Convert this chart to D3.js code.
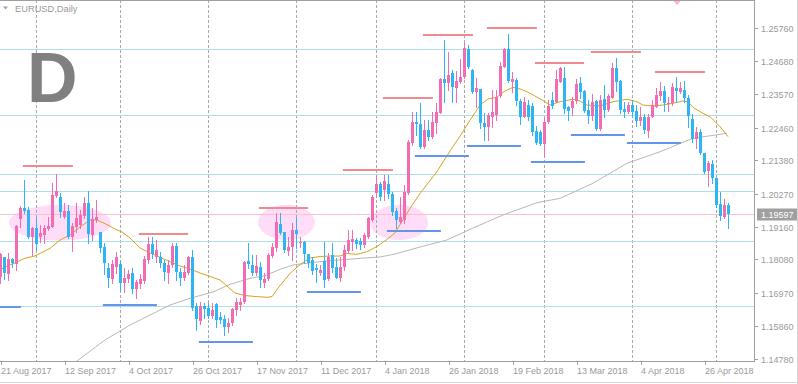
<!DOCTYPE html>
<html><head><meta charset="utf-8">
<script src="https://cdn.jsdelivr.net/npm/d3@7"></script>
<style>body{margin:0;background:#fff}svg{display:block}text{font-family:"Liberation Sans",Arial,sans-serif}</style>
</head><body>
<svg id="chart" width="798" height="384"></svg>
<script>
// ---------------- DATA ----------------
const symbolTitle = "EURUSD,Daily";
const bigLetter = "D";
const currentPrice = 1.19597;
const currentPriceLabel = "1.19597";

const open = [
1.17501,1.18147,1.17591,1.18090,1.17924,1.19421,1.19797,1.19721,1.18832,1.19132,
1.18832,1.18889,1.19089,1.19165,1.20197,1.20163,1.19498,1.19687,1.18832,1.19165,
1.19222,1.19531,1.19964,1.18889,1.19388,1.18979,1.18500,1.17781,1.17425,1.17814,
1.17914,1.17282,1.17425,1.17614,1.17092,1.17248,1.17358,1.18057,1.18589,1.18147,
1.18147,1.17947,1.17614,1.17891,1.18533,1.17668,1.17468,1.17614,1.18147,1.16536,
1.16027,1.16527,1.16470,1.16204,1.16593,1.16150,1.16094,1.15838,1.15951,1.16393,
1.16560,1.16650,1.18024,1.17891,1.17641,1.17824,1.17302,1.17415,1.18190,1.18446,
1.19255,1.18989,1.18367,1.18480,1.19055,1.18613,1.18666,1.18247,1.18057,1.17781,
1.17634,1.18024,1.17415,1.18223,1.17814,1.17448,1.17814,1.18357,1.18666,1.18723,
1.18699,1.18556,1.18832,1.19388,1.20276,1.20586,1.20386,1.20586,1.20253,1.19697,
1.19331,1.19388,1.20296,1.21940,1.22659,1.22582,1.21827,1.22383,1.22160,1.22605,
1.22958,1.24069,1.23936,1.24289,1.23770,1.23980,1.24136,1.25068,1.24379,1.23657,
1.23737,1.22605,1.22472,1.22815,1.22882,1.23514,1.24489,1.25068,1.23990,1.24046,
1.23357,1.22825,1.23214,1.23181,1.22359,1.22326,1.21917,1.22659,1.23381,1.23324,
1.23990,1.24103,1.23138,1.23105,1.23357,1.23956,1.23690,1.23048,1.22848,1.23357,
1.22406,1.23404,1.23048,1.23437,1.24435,1.24013,1.23071,1.22981,1.23214,1.23025,
1.22692,1.22805,1.22359,1.22825,1.23158,1.23514,1.23690,1.23248,1.23291,1.23770,
1.23657,1.23713,1.23437,1.22739,1.22073,1.22326,1.21607,1.21028,1.21251,1.20775,
1.19920,1.19498,1.19887];
const high = [
1.18280,1.18167,1.18280,1.18114,1.19222,1.19854,1.20719,1.19831,1.19165,1.19498,
1.19222,1.19222,1.19498,1.20609,1.20919,1.20276,1.19944,1.19887,1.19278,1.19944,
1.19721,1.20163,1.20353,1.19777,1.20053,1.18989,1.18613,1.17947,1.18057,1.18313,
1.18024,1.17781,1.17724,1.17781,1.17392,1.17591,1.18190,1.18812,1.18812,1.18723,
1.18333,1.18057,1.18057,1.18613,1.18613,1.17781,1.17891,1.18200,1.18390,1.16616,
1.16670,1.16616,1.16616,1.16616,1.16616,1.16337,1.16227,1.16137,1.16450,1.16783,
1.16783,1.18024,1.18613,1.18223,1.18223,1.17990,1.17614,1.18280,1.18613,1.19611,
1.19611,1.18999,1.18832,1.19278,1.19445,1.18832,1.18689,1.18257,1.18147,1.17924,
1.17891,1.18656,1.18290,1.18613,1.18114,1.18167,1.18556,1.19055,1.19055,1.18779,
1.18779,1.18945,1.19498,1.20220,1.20885,1.20662,1.20885,1.20885,1.20330,1.19787,
1.20163,1.20553,1.22050,1.22991,1.22991,1.23271,1.22715,1.22715,1.22991,1.23271,
1.24113,1.25377,1.24988,1.24379,1.24356,1.24735,1.25267,1.25211,1.24412,1.24103,
1.23757,1.22938,1.22938,1.23713,1.23713,1.24655,1.25101,1.25577,1.24322,1.24103,
1.23404,1.23471,1.23381,1.23271,1.22516,1.22383,1.22772,1.23381,1.23657,1.24379,
1.24489,1.24489,1.23181,1.23471,1.24069,1.24136,1.23713,1.23381,1.23580,1.23381,
1.23547,1.23880,1.23580,1.24622,1.24768,1.24030,1.23324,1.23324,1.23381,1.23214,
1.23158,1.22915,1.22915,1.23381,1.23770,1.23990,1.23847,1.23471,1.23956,1.24136,
1.23990,1.24023,1.23547,1.22915,1.22472,1.22406,1.21617,1.21361,1.21384,1.20785,
1.20330,1.20077,1.19964];
const low = [
1.17302,1.17425,1.17392,1.17834,1.17724,1.19165,1.19611,1.18779,1.18223,1.18390,
1.18666,1.18613,1.19072,1.19155,1.20163,1.19498,1.19445,1.18779,1.18367,1.18999,
1.19112,1.19445,1.18613,1.18723,1.19321,1.18313,1.17581,1.17169,1.17282,1.17614,
1.17026,1.16982,1.17335,1.16949,1.16783,1.17115,1.17282,1.17947,1.18134,1.18000,
1.17834,1.17392,1.17282,1.17834,1.17392,1.17225,1.17392,1.17581,1.16393,1.15728,
1.15918,1.16117,1.16117,1.16117,1.15838,1.15951,1.15562,1.15671,1.15894,1.16227,
1.16393,1.16643,1.17791,1.17558,1.17575,1.17175,1.17149,1.17392,1.18147,1.18367,
1.18922,1.18333,1.18223,1.18057,1.18446,1.18500,1.17947,1.17814,1.17591,1.17342,
1.17558,1.17169,1.17392,1.17668,1.17448,1.17368,1.17724,1.18333,1.18390,1.18446,
1.18413,1.18500,1.18779,1.19365,1.20163,1.20053,1.20053,1.20110,1.19554,1.19112,
1.19278,1.19278,1.20253,1.21883,1.22216,1.21774,1.21774,1.22050,1.22116,1.22273,
1.22938,1.23324,1.23713,1.23324,1.23324,1.23936,1.24113,1.24435,1.23630,1.23158,
1.22439,1.22050,1.22050,1.22472,1.22715,1.23491,1.24469,1.23990,1.23657,1.23214,
1.22582,1.22805,1.22715,1.22216,1.21917,1.21883,1.21494,1.22605,1.23115,1.23304,
1.23970,1.22958,1.22715,1.22882,1.23271,1.23437,1.22991,1.22605,1.22715,1.22383,
1.22383,1.22825,1.23015,1.23431,1.23690,1.22958,1.22805,1.22948,1.22805,1.22516,
1.22549,1.22273,1.22140,1.22805,1.23138,1.23381,1.23025,1.23025,1.23214,1.23324,
1.23604,1.23324,1.22492,1.21993,1.21774,1.21584,1.20942,1.20519,1.20609,1.19831,
1.19388,1.19445,1.19112];
const close = [
1.18257,1.17614,1.18090,1.17947,1.19188,1.19797,1.19697,1.18832,1.19132,1.18579,
1.18965,1.19132,1.19198,1.20220,1.20353,1.19644,1.19687,1.18832,1.19198,1.19464,
1.19554,1.19964,1.18912,1.19411,1.19498,1.18466,1.17947,1.17448,1.17914,1.18167,
1.17282,1.17448,1.17581,1.17092,1.17315,1.17425,1.18090,1.18589,1.18247,1.18390,
1.17947,1.17648,1.17891,1.18533,1.17668,1.17468,1.17648,1.18167,1.16470,1.16094,
1.16536,1.16427,1.16204,1.16393,1.16061,1.16061,1.15838,1.15951,1.16427,1.16650,
1.16670,1.17981,1.17924,1.17641,1.17874,1.17392,1.17415,1.18223,1.18500,1.19311,
1.18965,1.18390,1.18500,1.19055,1.18922,1.18666,1.18257,1.17967,1.17701,1.17724,
1.17724,1.17392,1.18167,1.17781,1.17448,1.17814,1.18390,1.18723,1.18756,1.18589,
1.18556,1.18889,1.19445,1.20163,1.20586,1.20153,1.20686,1.20253,1.19664,1.19388,
1.19478,1.20330,1.21993,1.22659,1.22582,1.21807,1.22383,1.22140,1.22659,1.22991,
1.24069,1.23956,1.24212,1.23803,1.24023,1.24156,1.25101,1.24489,1.23657,1.23770,
1.22625,1.22472,1.22882,1.22981,1.23491,1.24512,1.25068,1.24023,1.24089,1.23357,
1.22825,1.23324,1.22825,1.22326,1.21940,1.21917,1.22659,1.23181,1.23181,1.24069,
1.24435,1.23071,1.23025,1.23357,1.23913,1.23657,1.23025,1.22848,1.23324,1.22406,
1.23381,1.23048,1.23514,1.24435,1.23990,1.23048,1.22981,1.23214,1.22991,1.22692,
1.22805,1.22383,1.22825,1.23214,1.23547,1.23690,1.23271,1.23291,1.23823,1.23690,
1.23770,1.23437,1.22848,1.22073,1.22326,1.21607,1.20995,1.21275,1.20775,1.19887,
1.19521,1.19887,1.19597];

// moving averages (bar index, price)
const maFastBars = [-0.1,2.9,6.1,8.6,12.4,14.9,17.4,19.9,22.4,24.1,26.6,28.6,30.4,32.4,34.9,37.4,39.9,42.4,44.9,47.4,49.9,52.4,54.9,56.9,58.6,61.1,63.6,66.9,67.9,69.4,72.4,74.9,77.4,79.9,82.4,84.9,86.6,89.1,91.6,94.1,96.6,98.6,100.6,102.6,104.9,106.9,109.1,111.1,113.1,115.4,117.4,119.9,121.9,124.1,126.1,128.1,129.9,131.6,133.6,135.4,137.4,138.6,139.9,143.1,144.9,146.6,149.9,153.1,156.6,159.1,160.6,163.1,165.6,168.1,170.6,171.9,173.1,175.6,177.4,179.9,181.9];
const maFastPrices = [1.17741,1.17924,1.18114,1.18190,1.18446,1.18723,1.18889,1.19155,1.19388,1.19388,1.19238,1.19089,1.18989,1.18789,1.18456,1.18290,1.18147,1.18000,1.17857,1.17758,1.17625,1.17508,1.17392,1.17159,1.16959,1.16876,1.16843,1.16816,1.16843,1.17125,1.17614,1.17907,1.18124,1.18174,1.18190,1.18190,1.18273,1.18247,1.18333,1.18506,1.18739,1.18955,1.19388,1.19820,1.20276,1.20619,1.20995,1.21418,1.21827,1.22283,1.22715,1.23214,1.23414,1.23471,1.23680,1.23803,1.23747,1.23657,1.23514,1.23381,1.23214,1.23264,1.23324,1.23404,1.23347,1.23214,1.23181,1.23324,1.23404,1.23324,1.23214,1.23181,1.23214,1.23271,1.23347,1.23324,1.23138,1.22938,1.22825,1.22492,1.22160];
const maSlowBars = [17.4,19.1,26.1,32.4,37.4,42.4,47.4,53.1,57.4,62.4,66.1,69.9,73.1,78.1,82.4,86.6,89.9,94.9,98.6,104.9,111.6,117.4,125.6,134.1,139.9,148.1,156.6,164.9,173.1,181.6];
const maSlowPrices = [1.14530,1.14696,1.15395,1.15894,1.16227,1.16560,1.16783,1.16992,1.17248,1.17448,1.17535,1.17748,1.17891,1.17974,1.18040,1.18074,1.18114,1.18157,1.18257,1.18490,1.18723,1.19078,1.19554,1.19964,1.20110,1.20609,1.21275,1.21660,1.22106,1.22273];

// horizontal levels
const levelPrices = [1.25078,1.22872,1.20909,1.20343,1.18679,1.16517];

// resistance (red) and support (blue) marks
const redStart = [5.6,34.6,64.6,85.6,95.6,105.6,121.6,133.6,147.6,163.6];
const redEnd   = [18.1,46.9,76.9,98.1,108.1,118.1,134.1,145.9,160.1,176.1];
const redLevel = [1.21185,1.18922,1.19804,1.21052,1.23464,1.25543,1.25776,1.24612,1.24978,1.24312];
const blueStart = [-8.4,25.6,49.6,76.6,96.6,103.6,116.6,132.6,142.6,156.6];
const blueEnd   = [5.1,39.1,63.1,90.1,110.1,117.1,130.1,146.1,156.1,170.1];
const blueLevel = [1.16493,1.16560,1.15345,1.17009,1.19022,1.21534,1.21850,1.21334,1.22216,1.21950];

// highlighted zones (ellipses)
const zoneBarFrom = [2.1,64.4,92.4];
const zoneBarTo   = [27.6,78.6,106.9];
const zoneHigh    = [1.19887,1.19897,1.19887];
const zoneLow     = [1.18699,1.18723,1.18723];

// month separators and axis ticks
const monthStartBars = [9,30,52,74,94,116,136,158,179];
const xTickBars = [0,16,32,48,64,80,96,112,128,144,160,176];
const xTickLabels = ["21 Aug 2017","12 Sep 2017","4 Oct 2017","26 Oct 2017","17 Nov 2017","11 Dec 2017","4 Jan 2018","26 Jan 2018","19 Feb 2018","13 Mar 2018","4 Apr 2018","26 Apr 2018"];
const yTickLabels = ["1.25760","1.24680","1.23570","1.22460","1.21380","1.20270","1.19160","1.18080","1.16970","1.15860","1.14780"];

// ---------------- DRAW ----------------
const svg = d3.select('#chart');
const plotW = 754, plotH = 361;
const x = d3.scaleLinear().domain([0, 188.5]).range([0.5, 754.5]);
const y = d3.scaleLinear().domain([1.14664, 1.26708]).range([362, 0]);
const axisCol = '#a0a0a0', textCol = '#9a9a9a';
const bull = '#f26cb2', bear = '#2db5f4';

svg.append('rect').attr('width', 798).attr('height', 384).attr('fill', '#fff');
svg.append('defs').append('clipPath').attr('id', 'clip')
  .append('rect').attr('x', 0).attr('y', 1).attr('width', plotW).attr('height', plotH - 1);
const plot = svg.append('g').attr('clip-path', 'url(#clip)');

// zones
plot.selectAll('ellipse.zone').data(zoneBarFrom).join('ellipse')
  .attr('cx', (d, i) => (x(d) + x(zoneBarTo[i])) / 2)
  .attr('cy', (d, i) => (y(zoneHigh[i]) + y(zoneLow[i])) / 2)
  .attr('rx', (d, i) => (x(zoneBarTo[i]) - x(d)) / 2)
  .attr('ry', (d, i) => (y(zoneLow[i]) - y(zoneHigh[i])) / 2)
  .attr('fill', '#ffdcf8');

// month separators
plot.selectAll('line.sep').data(monthStartBars).join('line')
  .attr('x1', d => x(d)).attr('x2', d => x(d)).attr('y1', 0).attr('y2', plotH)
  .attr('stroke', '#a8a8a8').attr('stroke-dasharray', '3,2');

// level lines
plot.selectAll('line.lvl').data(levelPrices).join('line')
  .attr('x1', 0).attr('x2', plotW)
  .attr('y1', d => Math.round(y(d)) + 0.5).attr('y2', d => Math.round(y(d)) + 0.5)
  .attr('stroke', '#b0e0e6');
plot.append('line').attr('x1', 0).attr('x2', plotW)
  .attr('y1', Math.round(y(currentPrice)) + 0.5).attr('y2', Math.round(y(currentPrice)) + 0.5)
  .attr('stroke', '#ffc0cb');

// moving averages
const maLine = d3.line().x(d => x(d[0])).y(d => y(d[1]));
plot.append('path').datum(maSlowBars.map((b, i) => [b, maSlowPrices[i]]))
  .attr('d', maLine).attr('fill', 'none').attr('stroke', '#b8b8b8').attr('stroke-width', 1);
plot.append('path').datum(maFastBars.map((b, i) => [b, maFastPrices[i]]))
  .attr('d', maLine).attr('fill', 'none').attr('stroke', '#d9a21b').attr('stroke-width', 1);

// candles
const idx = d3.range(close.length);
const col = i => close[i] >= open[i] ? bull : bear;
plot.selectAll('line.wick').data(idx).join('line')
  .attr('x1', i => x(i)).attr('x2', i => x(i))
  .attr('y1', i => Math.round(y(high[i]))).attr('y2', i => Math.round(y(low[i])) + 1)
  .attr('stroke', col).attr('stroke-width', 1);
plot.selectAll('rect.body').data(idx).join('rect')
  .attr('x', i => x(i) - 1.5).attr('width', 3)
  .attr('y', i => Math.round(y(Math.max(open[i], close[i]))))
  .attr('height', i => Math.max(1, Math.round(y(Math.min(open[i], close[i]))) - Math.round(y(Math.max(open[i], close[i])))))
  .attr('fill', col);

// red / blue marks
plot.selectAll('line.red').data(redLevel).join('line')
  .attr('x1', (d, i) => x(redStart[i])).attr('x2', (d, i) => x(redEnd[i]))
  .attr('y1', d => Math.round(y(d))).attr('y2', d => Math.round(y(d)))
  .attr('stroke', '#f08a8e').attr('stroke-width', 2);
plot.selectAll('line.blue').data(blueLevel).join('line')
  .attr('x1', (d, i) => x(blueStart[i])).attr('x2', (d, i) => x(blueEnd[i]))
  .attr('y1', d => Math.round(y(d))).attr('y2', d => Math.round(y(d)))
  .attr('stroke', '#6495ed').attr('stroke-width', 2);

// big letter and title
svg.append('text').attr('x', 27).attr('y', 102).text(bigLetter)
  .attr('font-size', 70).attr('font-weight', 'bold').attr('fill', '#808080');
svg.append('path').attr('d', 'M3,6.5 L8,6.5 L5.5,9.5 Z').attr('fill', '#a0a0a0');
svg.append('text').attr('x', 15).attr('y', 12).text(symbolTitle)
  .attr('font-size', 9.3).attr('fill', textCol);
svg.append('path').attr('d', 'M673,0.5 L681,0.5 L677,5 Z').attr('fill', '#ffb6c1');

// frame
svg.append('line').attr('x1', 0).attr('x2', plotW + 0.5).attr('y1', 0.5).attr('y2', 0.5).attr('stroke', axisCol);
svg.append('line').attr('x1', plotW + 0.5).attr('x2', plotW + 0.5).attr('y1', 0).attr('y2', plotH + 1).attr('stroke', axisCol);
svg.append('line').attr('x1', 0).attr('x2', plotW + 1).attr('y1', plotH + 0.5).attr('y2', plotH + 0.5).attr('stroke', axisCol);
svg.append('line').attr('x1', 797.5).attr('x2', 797.5).attr('y1', 0).attr('y2', 384).attr('stroke', '#d4d4d4');
svg.append('line').attr('x1', 0).attr('x2', 798).attr('y1', 382.5).attr('y2', 382.5).attr('stroke', '#d4d4d4');

// y axis
const yt = svg.append('g');
yTickLabels.forEach(lbl => {
  const v = +lbl, yy = Math.round(y(v)) + 0.5;
  yt.append('line').attr('x1', plotW + 1).attr('x2', plotW + 4).attr('y1', yy).attr('y2', yy).attr('stroke', axisCol);
  yt.append('text').attr('x', 761).attr('y', yy + 3.2).text(lbl).attr('font-size', 9).attr('fill', textCol);
});
// current price tag
const cy = Math.round(y(currentPrice));
svg.append('rect').attr('x', 757).attr('y', cy - 5.5).attr('width', 40).attr('height', 12).attr('fill', '#a0a0a0');
svg.append('text').attr('x', 761).attr('y', cy + 3.8).text(currentPriceLabel).attr('font-size', 9).attr('fill', '#fff');

// x axis
xTickBars.forEach((b, i) => {
  const xx = Math.round(x(b)) + 0.5;
  svg.append('line').attr('x1', xx).attr('x2', xx).attr('y1', plotH + 1).attr('y2', plotH + 4).attr('stroke', axisCol);
  svg.append('text').attr('x', xx - 0.5).attr('y', 374).text(xTickLabels[i]).attr('font-size', 9).attr('fill', textCol);
});
</script>
</body></html>
